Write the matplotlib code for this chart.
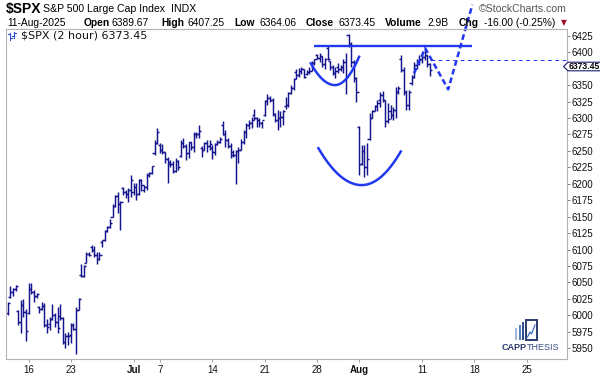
import numpy as np
import pandas as pd
import matplotlib
matplotlib.use("Agg")
import matplotlib.pyplot as plt
from matplotlib.collections import LineCollection
from matplotlib.patches import Polygon, Rectangle
from matplotlib.lines import Line2D

# ---------------- data (2-hour OHLC bars, 4 per session, 2 on Jul 3) ----------------
open_ = [6004, 6028, 6036, 6040,   6006, 5990, 6016, 6005,   6004, 6040, 6036, 6030,
         6012, 6010, 6014, 5986,   5987, 5994, 6001, 5990,   5999, 5996, 5960, 5968,
         5970, 5985, 5980, 6008,   6062, 6060, 6080, 6094,   6104, 6100, 6092, 6085,
         6112, 6114, 6128, 6134,   6150, 6166, 6181, 6170,   6193, 6188, 6185, 6190,
         6187, 6195, 6185, 6206,   6191, 6195, 6213, 6216,   6246, 6262,
         6259, 6252, 6248, 6238,   6233, 6230, 6220, 6235,   6242, 6262, 6258, 6247,
         6263, 6256, 6276, 6275,   6254, 6252, 6262, 6258,   6255, 6248, 6260, 6264,
         6290, 6276, 6266, 6258,   6248, 6244, 6250, 6252,   6264, 6279, 6289, 6292,
         6305, 6300, 6297, 6292,   6304, 6326, 6330, 6327,   6306, 6297, 6300, 6301,
         6318, 6320, 6338, 6345,   6370, 6366, 6372, 6374,   6367, 6370, 6372, 6384,
         6395, 6391, 6394, 6382,   6406, 6386, 6378, 6368,   6377, 6375, 6378, 6385,
         6426, 6412, 6385, 6360,   6287, 6230, 6250, 6225,   6268, 6300, 6310, 6318,
         6328, 6335, 6327, 6295,   6310, 6305, 6312, 6340,   6389, 6373, 6340, 6320,
         6353, 6362, 6380, 6385,   6390, 6392, 6395, 6382]
high = [6021, 6044, 6042, 6046,   6008, 6023, 6025, 6010,   6049, 6049, 6038, 6034,
        6015, 6021, 6019, 5994,   5998, 6018, 6004, 6013,   6018, 5998, 5973, 5975,
        5989, 5988, 6013, 6026,   6078, 6077, 6097, 6097,   6107, 6105, 6097, 6096,
        6115, 6130, 6136, 6146,   6170, 6183, 6187, 6174,   6195, 6190, 6193, 6213,
        6201, 6201, 6208, 6208,   6198, 6216, 6218, 6227,   6267, 6284,
        6262, 6260, 6249, 6240,   6236, 6234, 6239, 6236,   6267, 6269, 6261, 6263,
        6264, 6278, 6279, 6290,   6257, 6264, 6266, 6266,   6259, 6262, 6266, 6271,
        6296, 6282, 6269, 6262,   6251, 6252, 6256, 6268,   6282, 6292, 6297, 6301,
        6313, 6302, 6300, 6295,   6327, 6336, 6333, 6330,   6307, 6312, 6310, 6312,
        6332, 6340, 6350, 6360,   6374, 6376, 6378, 6375,   6373, 6377, 6386, 6390,
        6397, 6398, 6394, 6391,   6409, 6387, 6381, 6378,   6383, 6380, 6389, 6398,
        6428, 6415, 6388, 6362,   6288, 6259, 6259, 6262,   6307, 6312, 6320, 6327,
        6340, 6341, 6328, 6322,   6320, 6317, 6347, 6348,   6395, 6378, 6342, 6342,
        6365, 6385, 6390, 6396,   6397, 6407, 6396, 6384]
low = [6001, 6027, 6029, 6037,   5985, 5973, 5998, 5961,   6002, 6033, 6021, 6027,
       6004, 6008, 5982, 5973,   5978, 5993, 5983, 5973,   5993, 5957, 5951, 5955,
       5958, 5978, 5942, 6008,   6058, 6058, 6079, 6090,   6097, 6089, 6078, 6084,
       6104, 6113, 6127, 6133,   6150, 6165, 6155, 6130,   6183, 6179, 6173, 6180,
       6183, 6175, 6183, 6189,   6187, 6191, 6210, 6215,   6243, 6260,
       6247, 6245, 6232, 6201,   6226, 6216, 6218, 6221,   6241, 6255, 6236, 6239,
       6251, 6249, 6269, 6269,   6240, 6251, 6249, 6251,   6237, 6244, 6259, 6262,
       6274, 6256, 6254, 6239,   6240, 6199, 6231, 6251,   6261, 6270, 6283, 6284,
       6297, 6287, 6287, 6284,   6303, 6320, 6325, 6303,   6294, 6281, 6287, 6289,
       6314, 6317, 6336, 6343,   6359, 6363, 6367, 6360,   6365, 6367, 6371, 6380,
       6389, 6385, 6378, 6375,   6388, 6373, 6365, 6360,   6368, 6372, 6368, 6336,
       6408, 6378, 6355, 6325,   6213, 6228, 6211, 6214,   6266, 6300, 6311, 6310,
       6317, 6325, 6287, 6292,   6299, 6297, 6300, 6337,   6370, 6335, 6312, 6312,
       6350, 6360, 6375, 6380,   6383, 6388, 6378, 6364]
close = [6019, 6036, 6040, 6045,   5990, 6016, 6005, 5977,   6040, 6036, 6030, 6033,
         6010, 6014, 5986, 5982,   5994, 6001, 5990, 5981,   5996, 5960, 5968, 5968,
         5985, 5980, 6008, 6025,   6060, 6075, 6094, 6092,   6100, 6092, 6085, 6092,
         6114, 6128, 6134, 6141,   6166, 6181, 6170, 6173,   6188, 6185, 6190, 6205,
         6195, 6185, 6206, 6198,   6195, 6213, 6216, 6227,   6262, 6279,
         6252, 6248, 6238, 6230,   6230, 6220, 6235, 6226,   6262, 6258, 6247, 6263,
         6256, 6276, 6275, 6280,   6252, 6262, 6258, 6260,   6248, 6260, 6264, 6268,
         6276, 6266, 6258, 6244,   6244, 6250, 6252, 6264,   6279, 6289, 6292, 6297,
         6300, 6297, 6292, 6297,   6326, 6330, 6327, 6306,   6297, 6300, 6301, 6310,
         6320, 6338, 6345, 6359,   6366, 6372, 6374, 6363,   6370, 6372, 6384, 6389,
         6391, 6394, 6382, 6390,   6390, 6378, 6368, 6371,   6375, 6378, 6385, 6363,
         6412, 6385, 6360, 6339,   6230, 6250, 6225, 6238,   6300, 6310, 6318, 6322,
         6335, 6327, 6295, 6299,   6305, 6312, 6340, 6345,   6373, 6340, 6320, 6340,
         6362, 6380, 6385, 6389,   6392, 6395, 6382, 6373.45]

holidays = ["2025-06-19", "2025-07-04"]
half_days = ["2025-07-03"]
tick_dates = ["2025-06-16", "2025-06-23", "2025-07-01", "2025-07-07", "2025-07-14",
              "2025-07-21", "2025-07-28", "2025-08-01", "2025-08-11", "2025-08-18",
              "2025-08-25"]
tick_labels = ["16", "23", "Jul", "7", "14", "21", "28", "Aug", "11", "18", "25"]
y_ticks = [6425, 6400, 6350, 6325, 6300, 6275, 6250, 6225, 6200, 6175, 6150, 6125,
           6100, 6075, 6050, 6025, 6000, 5975, 5950]
last_price = 6373.45

# ---------------- bar-index calendar ----------------
days = [d for d in pd.bdate_range("2025-06-12", "2025-09-05")
        if d.strftime("%Y-%m-%d") not in holidays]
start_idx = {}
pos = 0
for d in days:
    s = d.strftime("%Y-%m-%d")
    start_idx[s] = pos
    pos += 2 if s in half_days else 4

x = np.arange(len(close))

W, H = 600, 380
fig = plt.figure(figsize=(6, 3.8), dpi=100)
fig.patch.set_facecolor("white")

def fx(px):
    return px / W

def fy(py):
    return 1 - py / H

ax = fig.add_axes([fx(6), fy(359), (567 - 6) / W, (359 - 29) / H])
ax.set_xlim(-0.65, 213.3)
ax.set_ylim(5933.7, 6435.2)

bar_col = "#14148c"
segs = []
tw = 0.8
for i in range(len(close)):
    segs.append([(x[i], low[i]), (x[i], high[i])])
    segs.append([(x[i] - tw, open_[i]), (x[i], open_[i])])
    segs.append([(x[i], close[i]), (x[i] + tw, close[i])])
ax.add_collection(LineCollection(segs, colors=bar_col, linewidths=1.05))

# ---------------- annotations ----------------
ann = "#2238ee"

def arc(p0, pb, p1, n=60):
    xl = np.linspace(p0[0], pb[0], n)
    al = (p0[1] - pb[1]) / (p0[0] - pb[0]) ** 2
    yl = pb[1] + al * (xl - pb[0]) ** 2
    xr = np.linspace(pb[0], p1[0], n)
    ar = (p1[1] - pb[1]) / (p1[0] - pb[0]) ** 2
    yr = pb[1] + ar * (xr - pb[0]) ** 2
    return np.r_[xl, xr], np.r_[yl, yr]

ax.plot([117, 177], [6410, 6410], color=ann, lw=1.7, solid_capstyle="butt")
ax_, ay_ = arc((115.6, 6383), (124.8, 6350), (134.0, 6393))
ax.plot(ax_, ay_, color=ann, lw=1.8)
bx_, by_ = arc((118.5, 6254), (135.0, 6198), (149.9, 6249))
ax.plot(bx_, by_, color=ann, lw=1.8)
ax.plot([155, 159.2, 168, 177.2], [6368, 6406, 6343.5, 6472], color=ann, lw=1.8,
        dashes=(2.3, 1.3), clip_on=False)
ax.plot([161.3, 213.3], [6388, 6388], color=ann, lw=0.75, dashes=(3.5, 3.5))

# ---------------- axes styling ----------------
spine_col = "#b4b4b4"
for sp in ax.spines.values():
    sp.set_color(spine_col)
    sp.set_linewidth(0.8)
ax.yaxis.tick_right()
ax.set_yticks(y_ticks)
ax.set_yticklabels([str(v) for v in y_ticks])
ax.tick_params(axis="y", length=2.5, width=0.7, color="#808080", pad=1,
               labelsize=7, labelcolor="#111111")
for lab in ax.get_yticklabels():
    lab.set_family("Liberation Sans")

ax.set_xticks([start_idx[d] for d in tick_dates])
ax.set_xticklabels(tick_labels)
ax.tick_params(axis="x", length=2.5, width=0.7, color="#a0a0a0", pad=2,
               labelsize=7, labelcolor="#111111")
for lab in ax.get_xticklabels():
    lab.set_family("Liberation Sans")
    if lab.get_text() in ("Jul", "Aug"):
        lab.set_fontweight("bold")

# ---------------- header ----------------
hf = "Liberation Sans"
fig.text(fx(6), fy(9), "$SPX", fontsize=10, fontweight="bold", family=hf, va="center")
fig.text(fx(43), fy(9.5), "S&P 500 Large Cap Index", fontsize=7.6, family=hf, va="center")
fig.text(fx(171), fy(9.5), "INDX", fontsize=7.6, family=hf, va="center")
fig.text(fx(567), fy(9.5), "\u00a9StockCharts.com", fontsize=7.6, family=hf,
         va="center", ha="right", color="#555555")

row2 = 23
pieces = [(7, "11-Aug-2025", "normal"), (84, "Open", "bold"), (112, "6389.67", "normal"),
          (161, "High", "bold"), (188, "6407.25", "normal"), (234, "Low", "bold"),
          (259, "6364.06", "normal"), (306, "Close", "bold"), (339, "6373.45", "normal"),
          (385, "Volume", "bold"), (428, "2.9B", "normal"), (459, "Chg", "bold"),
          (484, "-16.00 (-0.25%)", "normal")]
for px_, txt, wt in pieces:
    fig.text(fx(px_), fy(row2), txt, fontsize=7.4, family=hf, fontweight=wt, va="center")
fig.text(fx(564), fy(row2), "\u25bc", fontsize=5.5, family="DejaVu Sans", va="center",
         ha="center", color="#a0102a")

# legend inside plot
fig.text(fx(21), fy(36), "$SPX (2 hour) 6373.45", fontsize=8, family="DejaVu Sans",
         va="center", color="#111111")
icon_col = "#3050d0"
for (xa, y0, y1, yo, yc) in [(9.5, 33, 40, 34, 38), (14, 32, 38, 36, 33)]:
    fig.add_artist(Line2D([fx(xa), fx(xa)], [fy(y0), fy(y1)], color=icon_col, lw=0.8))
    fig.add_artist(Line2D([fx(xa - 2), fx(xa)], [fy(yo), fy(yo)], color=icon_col, lw=0.8))
    fig.add_artist(Line2D([fx(xa), fx(xa + 2)], [fy(yc), fy(yc)], color=icon_col, lw=0.8))

# last price box on the right axis
by = 66.5
box = Polygon([(fx(563.5), fy(by)), (fx(568), fy(by - 4.3)), (fx(601), fy(by - 4.3)),
               (fx(601), fy(by + 4.3)), (fx(568), fy(by + 4.3))], closed=True,
              facecolor="white", edgecolor="#1a1a70", lw=0.8, transform=fig.transFigure)
fig.add_artist(box)
fig.text(fx(568.5), fy(by), "6373.45", fontsize=6.2, fontweight="bold", family=hf,
         va="center", color="#000000")

# ---------------- CAPPTHESIS logo ----------------
navy = "#2b3a6b"
fig.add_artist(Rectangle((fx(515), fy(340)), 2.4 / W, 12 / H, transform=fig.transFigure,
                         facecolor="#9fb6de", edgecolor="none"))
fig.add_artist(Rectangle((fx(518.5), fy(340)), 2.4 / W, 15 / H, transform=fig.transFigure,
                         facecolor="#5c7fc0", edgecolor="none"))
fig.add_artist(Rectangle((fx(522), fy(340)), 2.4 / W, 18 / H, transform=fig.transFigure,
                         facecolor="#2f4f98", edgecolor="none"))
fig.add_artist(Rectangle((fx(525.5), fy(340)), 11 / W, 20 / H, transform=fig.transFigure,
                         facecolor="white", edgecolor=navy, lw=1.4))
fig.add_artist(Line2D([fx(527.5), fx(530), fx(531.5), fx(535)],
                      [fy(337), fy(332), fy(334), fy(325)], color="#3a6fd0", lw=0.9))
fig.text(fx(527), fy(347), "CAPP", fontsize=6.5, fontweight="bold", family=hf,
         color=navy, va="center", ha="right")
fig.text(fx(527), fy(347), "THESIS", fontsize=6.5, family=hf,
         color="#3b4f86", va="center", ha="left")

fig.savefig("out.png", dpi=100)
